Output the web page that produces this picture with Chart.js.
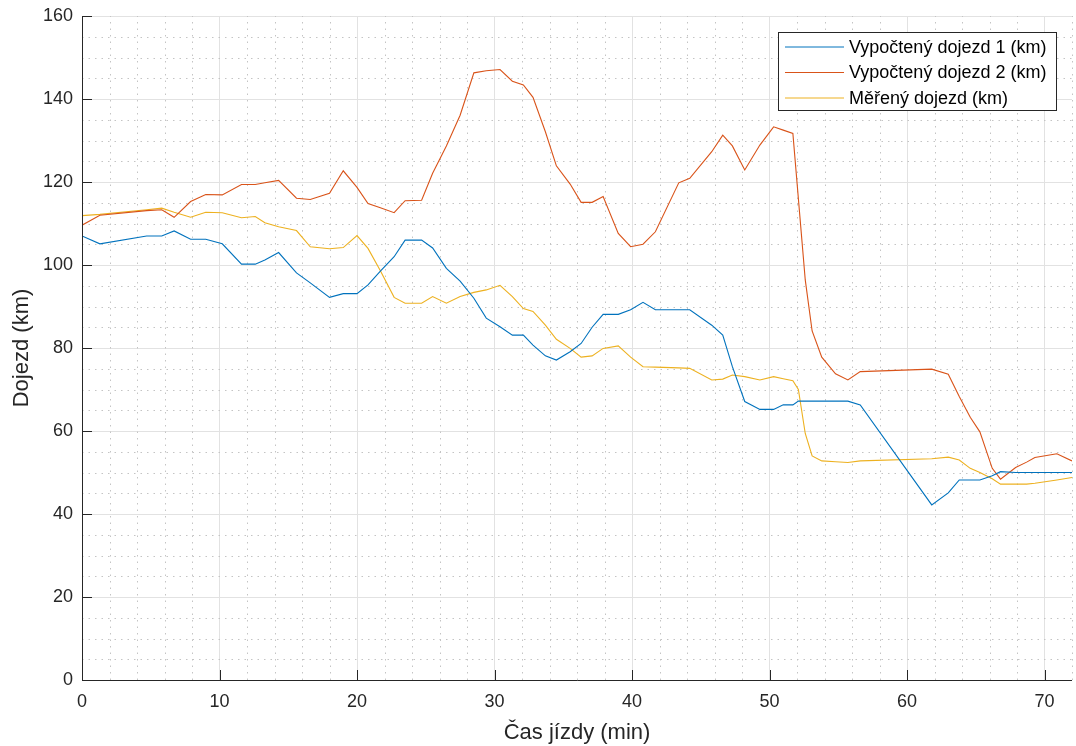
<!DOCTYPE html>
<html>
<head>
<meta charset="utf-8">
<script src="https://cdn.jsdelivr.net/npm/chart.js@4.4.1/dist/chart.umd.min.js"></script>
<style>
  html, body { margin: 0; padding: 0; background: #fff; }
  #wrap { width: 1076px; height: 746px; }
</style>
</head>
<body>
<div id="wrap"><canvas id="chart" width="1076" height="746"></canvas></div>
<script>
// ── Data ──────────────────────────────────────────────────────
const time = [0, 1.3, 4.7, 5.8, 6.7, 7.9, 9.0, 10.2, 11.6, 12.6, 13.3, 14.3, 15.6, 16.6, 18.0,
  19.0, 20.0, 20.8, 21.7, 22.7, 23.5, 24.7, 25.5, 26.5, 27.5, 28.5, 29.4, 30.4, 31.3, 32.1,
  32.8, 33.7, 34.5, 35.5, 36.3, 37.1, 37.9, 39.0, 39.9, 40.8, 41.7, 43.4, 44.2, 45.8, 46.6,
  47.3, 48.2, 49.3, 50.3, 51.0, 51.7, 52.1, 52.6, 53.1, 53.8, 54.8, 55.7, 56.6, 61.8, 63.0,
  63.8, 64.6, 65.3, 66.2, 66.8, 67.9, 68.7, 69.3, 70.9, 72];

const calc1 = [107, 105.1, 107, 107, 108.2, 106.2, 106.2, 105.1, 100.2, 100.2, 101.2, 103, 98.1, 95.7, 92.2,
  93.1, 93.1, 95.2, 98.5, 102, 106, 106, 104.1, 99.2, 96.1, 92, 87.2, 85.1, 83.1, 83.1,
  80.7, 78.1, 77.1, 79.1, 81.1, 85, 88.1, 88.1, 89.2, 91, 89.2, 89.2, 89.2, 85.5, 83.1,
  75.5, 67.1, 65.2, 65.2, 66.3, 66.3, 67.2, 67.2, 67.2, 67.2, 67.2, 67.2, 66.3, 42.2, 45.1,
  48.2, 48.2, 48.2, 49.2, 50.2, 50, 50, 50, 50, 50];

const calc2 = [109.6, 112, 113.1, 113.3, 111.5, 115.3, 117, 116.9, 119.4, 119.4, 119.8, 120.4, 116.1, 115.8, 117.3,
  122.7, 118.7, 114.8, 113.8, 112.6, 115.5, 115.6, 122.1, 128.7, 136.1, 146.3, 146.8, 147.1, 144.3, 143.4,
  140.4, 132.1, 123.9, 119.5, 115.1, 115.1, 116.5, 107.6, 104.4, 105, 108, 119.8, 120.9, 127.3, 131.3,
  128.7, 122.9, 128.9, 133.3, 132.5, 131.7, 116, 96.4, 84.1, 77.8, 73.8, 72.3, 74.3, 74.9, 73.7,
  68.3, 63.3, 59.8, 51, 48.4, 51.2, 52.5, 53.6, 54.5, 52.8];

const measured = [111.9, 112.2, 113.3, 113.7, 112.7, 111.5, 112.7, 112.6, 111.4, 111.7, 110.2, 109.2, 108.3, 104.4, 103.9,
  104.2, 107.1, 104, 98.6, 92.2, 90.8, 90.8, 92.4, 90.8, 92.4, 93.4, 94, 95.1, 92.4, 89.5,
  88.8, 85.5, 82.1, 79.9, 77.8, 78.1, 79.9, 80.5, 77.8, 75.5, 75.4, 75.2, 75.1, 72.3, 72.5,
  73.5, 73.1, 72.3, 73.1, 72.6, 72.1, 70.0, 59.4, 54, 52.8, 52.6, 52.4, 52.8, 53.3, 53.7,
  53, 51, 50, 48.5, 47.2, 47.2, 47.2, 47.4, 48.2, 48.8];

const xTicks = [0, 10, 20, 30, 40, 50, 60, 70];
const yTicks = [0, 20, 40, 60, 80, 100, 120, 140, 160];

const seriesNames = ['Vypočtený dojezd 1 (km)', 'Vypočtený dojezd 2 (km)', 'Měřený dojezd (km)'];
const seriesColors = ['#0072BD', '#D95319', '#EDB120'];

const X_MAX = 72, Y_MAX = 160;
const INK = '#262626';
const FONT = '"Liberation Sans", Arial, Helvetica, sans-serif';

const toPoints = vals => vals.map((v, i) => ({ x: time[i], y: v }));

// ── MATLAB-ish axes: minor grid, inward ticks, axis lines, legend ──
const matlabAxes = {
  id: 'matlabAxes',
  beforeDatasetsDraw(chart) {
    const { ctx, chartArea: a, scales: { x, y } } = chart;
    ctx.save();
    ctx.strokeStyle = '#c4c4c4';
    ctx.lineWidth = 1;
    ctx.setLineDash([1.5, 5]);
    for (let v = 2; v <= X_MAX; v += 2) {
      if (v % 10 === 0) continue;
      const px = Math.round(x.getPixelForValue(v)) + 0.5;
      ctx.beginPath(); ctx.moveTo(px, a.bottom); ctx.lineTo(px, a.top); ctx.stroke();
    }
    for (let v = 5; v < Y_MAX; v += 5) {
      if (v % 20 === 0) continue;
      const py = Math.round(y.getPixelForValue(v)) + 0.5;
      ctx.beginPath(); ctx.moveTo(a.left, py); ctx.lineTo(a.right, py); ctx.stroke();
    }
    ctx.restore();
  },
  afterDatasetsDraw(chart) {
    const { ctx, chartArea: a, scales: { x, y } } = chart;
    ctx.save();
    ctx.strokeStyle = INK;
    ctx.lineWidth = 1;
    // axis lines
    ctx.beginPath();
    ctx.moveTo(a.left + 0.5, a.top);
    ctx.lineTo(a.left + 0.5, a.bottom + 0.5);
    ctx.lineTo(a.right, a.bottom + 0.5);
    ctx.stroke();
    // inward ticks
    x.ticks.forEach(t => {
      const px = Math.round(x.getPixelForValue(t.value)) + 0.5;
      ctx.beginPath(); ctx.moveTo(px, a.bottom); ctx.lineTo(px, a.bottom - 10); ctx.stroke();
    });
    y.ticks.forEach(t => {
      const py = Math.round(y.getPixelForValue(t.value)) + 0.5;
      ctx.beginPath(); ctx.moveTo(a.left, py); ctx.lineTo(a.left + 10, py); ctx.stroke();
    });

    // legend box, top right inside the axes
    const bx = 778.5, by = 32.5, bw = 278, bh = 78;
    ctx.fillStyle = '#fff';
    ctx.fillRect(bx, by, bw, bh);
    ctx.strokeRect(bx, by, bw, bh);
    ctx.font = `18px ${FONT}`;
    ctx.textBaseline = 'middle';
    seriesNames.forEach((name, i) => {
      const ry = 47 + i * 25.5;
      ctx.strokeStyle = seriesColors[i];
      ctx.beginPath(); ctx.moveTo(785, ry); ctx.lineTo(844, ry); ctx.stroke();
      ctx.fillStyle = '#000';
      ctx.fillText(name, 849, ry + 1);
    });
    ctx.restore();
  }
};

new Chart(document.getElementById('chart'), {
  type: 'line',
  data: {
    datasets: [calc1, calc2, measured].map((vals, i) => ({
      label: seriesNames[i],
      data: toPoints(vals),
      borderColor: seriesColors[i],
      backgroundColor: seriesColors[i],
      borderWidth: 1.1,
      pointRadius: 0,
      tension: 0,
      fill: false,
    })),
  },
  options: {
    responsive: false,
    animation: false,
    devicePixelRatio: 1,
    layout: { padding: { top: 16, right: 4, left: 0, bottom: 0 } },
    plugins: { legend: { display: false }, tooltip: { enabled: false } },
    scales: {
      x: {
        type: 'linear',
        min: 0, max: X_MAX,
        afterBuildTicks: s => { s.ticks = xTicks.map(v => ({ value: v })); },
        afterFit: s => { s.height = 66; s.paddingLeft = 0; s.paddingRight = 0; },
        ticks: { color: INK, font: { size: 18, family: FONT }, padding: 11, maxRotation: 0 },
        grid: { color: '#e2e2e2', drawTicks: false },
        border: { display: false },
        title: { display: true, text: 'Čas jízdy (min)', color: INK, font: { size: 22, family: FONT }, padding: { top: 0, bottom: 0 } },
      },
      y: {
        min: 0, max: Y_MAX,
        afterBuildTicks: s => { s.ticks = yTicks.map(v => ({ value: v })); },
        afterFit: s => { s.width = 82; s.paddingTop = 0; s.paddingBottom = 0; },
        ticks: { color: INK, font: { size: 18, family: FONT }, padding: 9 },
        grid: { color: '#e2e2e2', drawTicks: false },
        border: { display: false },
        title: { display: true, text: 'Dojezd (km)', color: INK, font: { size: 22, family: FONT }, padding: { top: 9, bottom: 0 } },
      },
    },
  },
  plugins: [matlabAxes],
});
</script>
</body>
</html>
